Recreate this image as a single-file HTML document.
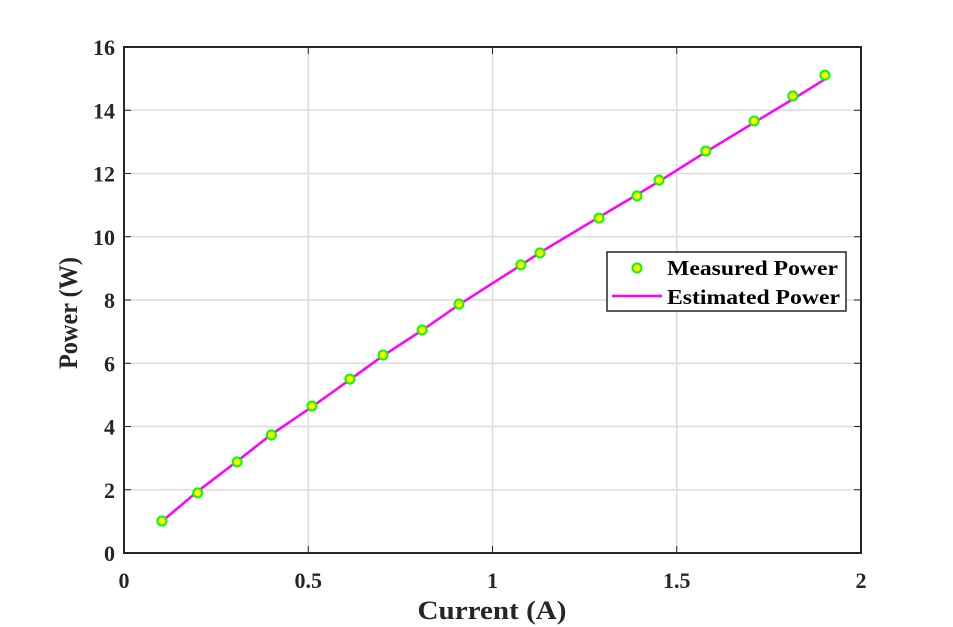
<!DOCTYPE html>
<html><head><meta charset="utf-8"><style>
html,body{margin:0;padding:0;background:#fff;}
svg{display:block;font-family:"Liberation Serif",serif;font-weight:bold;}
</style></head><body>
<svg id="chart" width="953" height="627"></svg>
<script>
const xTicks=[0,0.5,1,1.5,2];
const xTickLabels=["0","0.5","1","1.5","2"];
const yTicks=[0,2,4,6,8,10,12,14,16];
const yTickLabels=["0","2","4","6","8","10","12","14","16"];
const currentA=[0.103,0.2,0.307,0.40,0.51,0.613,0.703,0.809,0.909,1.077,1.129,1.289,1.392,1.452,1.579,1.71,1.815,1.902];
const measuredW=[1.01,1.9,2.88,3.73,4.65,5.5,6.26,7.05,7.87,9.11,9.49,10.59,11.29,11.79,12.71,13.66,14.45,15.11];
const estimatedW=[1.0,1.95,2.9,3.75,4.62,5.48,6.24,7.04,7.85,9.1,9.5,10.62,11.33,11.75,12.68,13.61,14.35,14.98];
const NS="http://www.w3.org/2000/svg";
const svg=document.getElementById('chart');
const L=124,R=861,T=47,B=553;
const sx=v=>L+(v-0)/(2-0)*(R-L);
const sy=v=>B-(v-0)/(16-0)*(B-T);
function mk(tag,attrs,parent){const e=document.createElementNS(NS,tag);for(const k in attrs)e.setAttribute(k,attrs[k]);(parent||svg).appendChild(e);return e;}
const grid=mk('g',{});


xTicks.forEach((v,i)=>{
  if(i>0&&i<xTicks.length-1){const g=mk('line',{x1:sx(v),x2:sx(v),y1:T,y2:B,stroke:'#dcdcdc','stroke-width':1.5},grid);
  
  }
  const tk=mk('line',{x1:sx(v),x2:sx(v),y1:B,y2:B-7,stroke:'#262626','stroke-width':1});
  
  
  const tk2=mk('line',{x1:sx(v),x2:sx(v),y1:T,y2:T+7,stroke:'#262626','stroke-width':1});
  
  
  const t=mk('text',{x:sx(v),y:B+35,'text-anchor':'middle','font-size':22,fill:'#262626'});
  t.textContent=xTickLabels[i];
  
  
});
yTicks.forEach((v,i)=>{
  if(i>0&&i<yTicks.length-1){const g=mk('line',{x1:L,x2:R,y1:sy(v),y2:sy(v),stroke:'#dcdcdc','stroke-width':1.5},grid);
  
  }
  const tk=mk('line',{x1:L,x2:L+7,y1:sy(v),y2:sy(v),stroke:'#262626','stroke-width':1});
  
  
  const tk2=mk('line',{x1:R,x2:R-7,y1:sy(v),y2:sy(v),stroke:'#262626','stroke-width':1});
  
  
  const t=mk('text',{x:L-9,y:sy(v)+8,'text-anchor':'end','font-size':22,fill:'#262626'});
  t.textContent=yTickLabels[i];
  
  
});
const frame=mk('rect',{x:L,y:T,width:R-L,height:B-T,fill:'none',stroke:'#262626','stroke-width':2});


const line=mk('polyline',{points:currentA.map((x,i)=>sx(x)+','+sy(estimatedW[i])).join(' '),fill:'none',stroke:'#ff00ff','stroke-width':2.5});


currentA.forEach((x,i)=>{
  const c=mk('circle',{cx:sx(x),cy:sy(measuredW[i]),r:4.5,fill:'#ffff00',stroke:'#00ff00','stroke-width':2});
  
  
});
const xl=mk('text',{x:492,y:619,'text-anchor':'middle','font-size':26,fill:'#262626',textLength:149,lengthAdjust:'spacingAndGlyphs'});
xl.textContent='Current (A)';


const yl=mk('text',{x:0,y:0,'text-anchor':'middle','font-size':26,fill:'#262626',textLength:112,lengthAdjust:'spacingAndGlyphs',transform:'translate(77,313) rotate(-90)'});
yl.textContent='Power (W)';


const lg=mk('g',{});


mk('rect',{x:607,y:252,width:239,height:59,fill:'#fff',stroke:'#262626','stroke-width':1.5},lg);
const lc=mk('circle',{cx:637,cy:268,r:4.5,fill:'#ffff00',stroke:'#00ff00','stroke-width':2},lg);


const t1=mk('text',{x:667,y:275,'font-size':21,fill:'#000',textLength:171,lengthAdjust:'spacingAndGlyphs'},lg);
t1.textContent='Measured Power';


const ll=mk('line',{x1:612,x2:662,y1:296,y2:296,stroke:'#ff00ff','stroke-width':2.5},lg);


const t2=mk('text',{x:667,y:304,'font-size':21,fill:'#000',textLength:173,lengthAdjust:'spacingAndGlyphs'},lg);
t2.textContent='Estimated Power';


</script>
</body></html>
